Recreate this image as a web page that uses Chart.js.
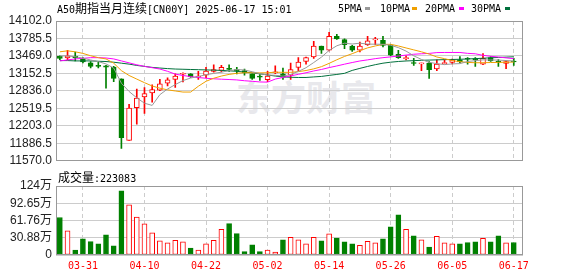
<!DOCTYPE html>
<html>
<head>
<meta charset="utf-8">
<script src="https://cdn.jsdelivr.net/npm/chart.js@4.4.1/dist/chart.umd.min.js"></script>
<style>
  body { margin:0; background:#fff; }
  #wrap { position:relative; width:578px; height:276px; overflow:hidden; font-family:"DejaVu Sans Mono", monospace; }
  canvas { position:absolute; left:0; }
  .t { position:absolute; white-space:nowrap; color:#000; font-size:10px; line-height:12px; }
  .cjk { font-family:"Noto Sans CJK SC"; font-size:12px; }
  .dash { position:absolute; width:5px; height:3px; top:7px; }
  #wm { position:absolute; left:236px; top:70px; font:bold 35px "Noto Sans CJK SC"; color:#e8e8ec; }
</style>
</head>
<body>
<div id="wrap">
  <div id="wm">东方财富</div>
  <canvas id="kline" width="578" height="172" style="top:0"></canvas>
  <canvas id="vol" width="578" height="104" style="top:172px"></canvas>
  <div class="t" style="left:57px;top:2px">A50<span class="cjk">期指当月连续</span>[CN00Y] 2025-06-17 15:01</div>
  <div class="t" style="left:338px;top:3px">5PMA</div><div class="dash" style="left:365px;background:#999"></div>
  <div class="t" style="left:380px;top:3px">10PMA</div><div class="dash" style="left:412px;background:#f0a000"></div>
  <div class="t" style="left:425px;top:3px">20PMA</div><div class="dash" style="left:459px;background:#ff00ff"></div>
  <div class="t" style="left:471px;top:3px">30PMA</div><div class="dash" style="left:505px;background:#00703c"></div>
  <div class="t" style="left:58px;top:171px"><span class="cjk">成交量</span>:223083</div>
</div>
<script>
const dates = ['03-26','03-27','03-28','03-31','04-01','04-02','04-03','04-04','04-07','04-08','04-09','04-10','04-11','04-14','04-15','04-16','04-17','04-18','04-21','04-22','04-23','04-24','04-25','04-28','04-29','04-30','05-01','05-02','05-05','05-06','05-07','05-08','05-09','05-12','05-13','05-14','05-15','05-16','05-19','05-20','05-21','05-22','05-23','05-26','05-27','05-28','05-29','05-30','06-02','06-03','06-04','06-05','06-06','06-09','06-10','06-11','06-12','06-13','06-16','06-17'];
const tickIdx = [3, 11, 19, 27, 35, 43, 51, 59]; // dates shown under the volume chart

const opens  = [13462,13432,13463,13409,13344,13290,13291,13268,13056,11940, 12533,12727,12798,12851,12974,13045,13138,13144,13086,13121, 13191,13209,13238,13215,13203,13144,13098,13039,13162,13144, 13121,13262,13368,13450,13650,13573,13826,13767,13650,13573, 13673,13761,13750,13661,13497,13420,13344,13326,13338,13232, 13326,13350,13397,13420,13414,13321,13438,13368,13332,13370];
const highs  = [13473,13573,13541,13438,13368,13368,13297,13280,13056,12592, 12868,12898,12945,13045,13074,13144,13162,13150,13191,13262, 13309,13297,13309,13262,13232,13144,13133,13191,13291,13250, 13338,13438,13450,13732,13650,13896,13861,13779,13661,13720, 13826,13808,13826,13673,13573,13473,13426,13338,13368,13397, 13397,13414,13456,13438,13438,13514,13456,13403,13380,13426];
const lows   = [13403,13397,13380,13344,13250,13250,12886,13003,11793,11940, 12234,12428,12633,12839,12927,12898,12997,13080,13045,13074, 13174,13180,13191,13144,13121,13045,13027,13004,13150,13045, 13045,13203,13321,13426,13514,13562,13767,13603,13550,13544, 13661,13673,13632,13473,13426,13397,13297,13203,13062,13203, 13326,13326,13344,13321,13280,13309,13370,13280,13238,13297];
const closes = [13426,13473,13438,13362,13279,13279,13268,13062,11987,12527, 12704,12786,12862,12962,13038,13103,13150,13092,13103,13197, 13221,13262,13227,13203,13162,13062,13086,13103,13180,13086, 13221,13356,13438,13650,13573,13826,13779,13673,13573,13650, 13744,13773,13661,13485,13438,13438,13332,13338,13221,13321, 13350,13397,13362,13409,13403,13426,13379,13356,13368,13360];

// volume in 万 (10k lots)
const volumes = [67.1,43.1,9.0,28.8,24.0,19.8,35.9,16.2,115,89.9, 67.7,55.7,39.5,25.2,21.6,26.4,23.4,12.6,9.0,19.8, 26.4,46.1,56.3,38.3,6.0,18.0,6.0,9.0,5.4,27.0, 31.7,27.0,19.8,31.7,25.2,37.7,30.5,23.4,19.8,17.4, 24.6,21.6,28.8,50.3,71.9,46.1,34.1,27.0,14.4,33.5, 21.6,19.8,19.8,22.2,23.4,30.0,23.4,34.1,21.6,22.31];

const ma5  = [13470,13470,13455,13430,13396,13366,13325,13250,12975,12825, 12710,12613,12573,12768,12870,12950,13023,13069,13097,13129, 13153,13175,13202,13222,13215,13183,13148,13123,13119,13103, 13135,13189,13256,13350,13448,13569,13653,13700,13685,13700, 13684,13682,13680,13662,13620,13557,13471,13406,13353,13330, 13312,13325,13330,13368,13384,13399,13396,13395,13386,13378];
const ma10 = [13544,13562,13544,13515,13473,13438,13415,13338,13203,13115, 13050,12985,12925,12885,12855,12835,12815,12815,12920,13010, 13065,13105,13135,13155,13165,13165,13162,13165,13175,13172, 13172,13185,13205,13235,13275,13335,13400,13460,13510,13565, 13615,13650,13678,13680,13650,13614,13579,13544,13503,13450, 13420,13385,13365,13352,13346,13346,13350,13352,13356,13358];
const ma20 = [13379,13397,13415,13426,13438,13438,13432,13415,13379,13344, 13309,13280,13256,13232,13191,13140,13115,13095,13078,13065, 13055,13048,13042,13035,13020,13010,12998,12995,13050,13080, 13108,13136,13165,13197,13224,13258,13288,13320,13350,13378, 13398,13420,13438,13452,13467,13485,13500,13508,13515,13530, 13532,13532,13532,13516,13508,13480,13463,13450,13434,13420];
const ma30 = [13385,13385,13379,13379,13379,13373,13368,13356,13338,13321, 13297,13280,13262,13250,13240,13232,13228,13224,13220,13216, 13212,13207,13200,13190,13178,13162,13145,13125,13105,13090, 13083,13079,13079,13089,13098,13117,13134,13154,13207,13244, 13279,13311,13338,13356,13369,13378,13384,13390,13394,13398, 13402,13405,13409,13414,13420,13428,13435,13442,13448,13454];

const priceTicks = [11570, 11886.5, 12203, 12519.5, 12836, 13152.5, 13469, 13785.5, 14102];
const volTicks = [0, 30.88, 61.76, 92.65, 123.53];

const red = '#ff0000', green = '#008000';
const up = closes.map((c, i) => c >= opens[i]);
const xy = arr => arr.map((v, i) => ({x: i, y: v}));

// box round the plot area
const frame = {
  id: 'frame',
  afterDraw(chart) {
    const a = chart.chartArea, ctx = chart.ctx;
    ctx.save();
    ctx.strokeStyle = '#999';
    ctx.lineWidth = 1;
    ctx.strokeRect(Math.round(a.left) + 0.5, Math.round(a.top) + 0.5, Math.round(a.right - a.left) - 1, Math.round(a.bottom - a.top) - 1);
    ctx.restore();
  }
};

const xScale = (showLabels) => ({
  type: 'linear', min: -0.5, max: 60.2, offset: false,
  afterBuildTicks: s => { s.ticks = tickIdx.map(v => ({value: v})); },
  afterFit: s => { s.height = showLabels ? 21 : 0; },
  ticks: {
    display: showLabels, autoSkip: false, maxRotation: 0, padding: 5, color: red,
    font: {family: 'DejaVu Sans Mono', size: 10},
    callback: v => dates[v]
  },
  grid: {color: '#ccc', drawTicks: false, offset: false},
  border: {display: false, dash: [4, 3]}
});

const maLine = (label, data, color) => ({
  type: 'line', label: label, data: xy(data), borderColor: color, borderWidth: 1,
  pointRadius: 0, tension: 0, order: 0
});

new Chart('kline', {
  type: 'bar',
  data: {
    datasets: [
      maLine('5PMA', ma5, '#999999'),
      maLine('10PMA', ma10, '#f0a000'),
      maLine('20PMA', ma20, '#ff00ff'),
      maLine('30PMA', ma30, '#00703c'),
      {
        label: 'body', data: opens.map((o, i) => ({x: i, y: [o, closes[i]]})),
        backgroundColor: up.map(u => u ? '#fff' : green),
        borderColor: up.map(u => u ? red : green),
        borderWidth: 1, borderSkipped: false, barThickness: 5, minBarLength: 1,
        grouped: false, order: 1
      },
      {
        label: 'wick', data: lows.map((l, i) => ({x: i, y: [l, highs[i]]})),
        backgroundColor: up.map(u => u ? red : green),
        barThickness: 1, grouped: false, order: 2
      }
    ]
  },
  options: {
    responsive: false, animation: false, events: [],
    layout: {padding: {top: 21, right: 55, bottom: 7, left: 0}},
    plugins: {legend: {display: false}, tooltip: {enabled: false}},
    scales: {
      x: xScale(false),
      y: {
        min: 11570, max: 14102,
        afterBuildTicks: s => { s.ticks = priceTicks.map(v => ({value: v})); },
        afterFit: s => { s.width = 56; },
        ticks: {color: '#222', padding: 4, autoSkip: false, font: {family: 'Liberation Sans', size: 12}, callback: v => v.toFixed(1)},
        grid: {color: '#ccc', drawTicks: false},
        border: {display: false}
      }
    }
  },
  plugins: [frame]
});

new Chart('vol', {
  type: 'bar',
  data: {
    datasets: [{
      label: '成交量', data: xy(volumes),
      backgroundColor: up.map(u => u ? '#fff' : green),
      borderColor: up.map(u => u ? red : green),
      borderWidth: 1, borderSkipped: false, barThickness: 5
    }]
  },
  options: {
    responsive: false, animation: false, events: [],
    layout: {padding: {top: 14, right: 55, bottom: 0, left: 0}},
    plugins: {legend: {display: false}, tooltip: {enabled: false}},
    scales: {
      x: xScale(true),
      y: {
        min: 0, max: 123.53,
        afterBuildTicks: s => { s.ticks = volTicks.map(v => ({value: v})); },
        afterFit: s => { s.width = 56; },
        ticks: {
          color: '#222', padding: 4, autoSkip: false,
          font: {family: "'Liberation Sans', 'Noto Sans CJK SC'", size: 12},
          callback: v => v === 0 ? '0' : (v > 100 ? Math.round(v) : v.toFixed(2)) + '万'
        },
        grid: {color: '#ccc', drawTicks: false},
        border: {display: false}
      }
    }
  },
  plugins: [frame]
});
</script>
</body>
</html>
